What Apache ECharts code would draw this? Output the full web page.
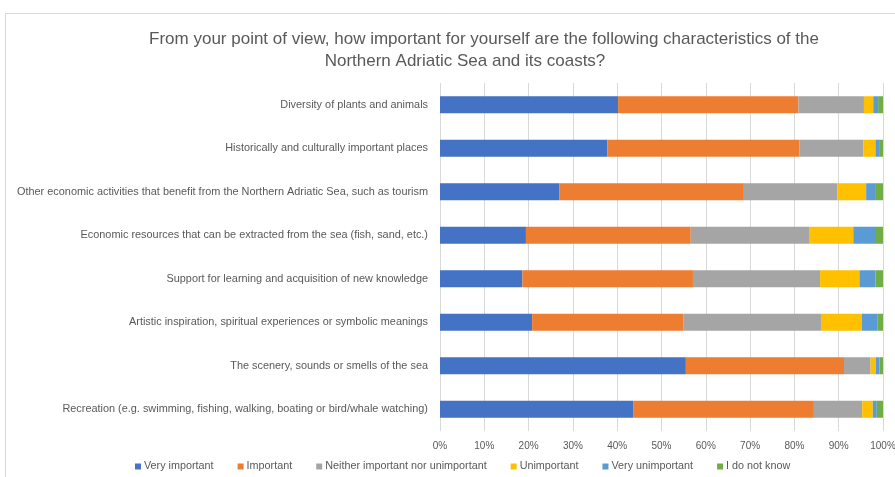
<!DOCTYPE html>
<html>
<head>
<meta charset="utf-8">
<script src="https://cdn.jsdelivr.net/npm/echarts@6/dist/echarts.min.js"></script>
<style>
  html, body { margin: 0; padding: 0; background: #fff; }
  #chart { width: 895px; height: 477px; }
</style>
</head>
<body>
<div id="chart"></div>
<script>
const categories = [
  "Diversity of plants and animals",
  "Historically and culturally important places",
  "Other economic activities that benefit from the Northern Adriatic Sea, such as tourism",
  "Economic resources that can be extracted from the sea (fish, sand, etc.)",
  "Support for learning and acquisition of new knowledge",
  "Artistic inspiration, spiritual experiences or symbolic meanings",
  "The scenery, sounds or smells of the sea",
  "Recreation (e.g. swimming, fishing, walking, boating or bird/whale watching)",
];

const veryImportant = [40.2, 37.8, 26.9, 19.4, 18.6, 20.8, 55.5, 43.6];
const important = [40.7, 43.3, 41.7, 37.2, 38.5, 34.1, 35.7, 40.8];
const neither = [14.8, 14.5, 21.1, 26.7, 28.7, 31.1, 6.0, 10.9];
const unimportant = [2.1, 2.7, 6.5, 10.0, 8.9, 9.2, 1.2, 2.4];
const veryUnimportant = [1.1, 1.0, 2.2, 4.9, 3.6, 3.5, 0.8, 0.9];
const doNotKnow = [1.1, 0.7, 1.6, 1.8, 1.7, 1.3, 0.8, 1.4];

const seriesNames = [
  "Very important",
  "Important",
  "Neither important nor unimportant",
  "Unimportant",
  "Very unimportant",
  "I do not know",
];
const seriesData = [veryImportant, important, neither, unimportant, veryUnimportant, doNotKnow];
const colors = ["#4472C4", "#ED7D31", "#A5A5A5", "#FFC000", "#5B9BD5", "#70AD47"];

const font = "Liberation Sans";
const textColor = "#595959";

const chart = echarts.init(document.getElementById("chart"), null, { renderer: "canvas" });

chart.setOption({
  animation: false,
  color: colors,
  title: [
    {
      text: "From your point of view, how important for yourself are the following characteristics of the",
      left: 479,
      top: 26,
      textAlign: "center",
      textStyle: { fontFamily: font, fontSize: 17, fontWeight: "normal", color: textColor },
    },
    {
      text: "Northern Adriatic Sea and its coasts?",
      left: 460,
      top: 48,
      textAlign: "center",
      textStyle: { fontFamily: font, fontSize: 17, fontWeight: "normal", color: textColor },
    },
  ],
  graphic: [
    {
      type: "rect",
      silent: true,
      shape: { x: 5.5, y: 13.5, width: 1000, height: 600 },
      style: { fill: "none", stroke: "#d9d9d9", lineWidth: 1 },
    },
  ],
  legend: {
    bottom: 0,
    left: 130,
    itemWidth: 6,
    itemHeight: 6,
    itemGap: 24,
    icon: "rect",
    textStyle: { fontFamily: font, fontSize: 10.8, color: textColor, padding: [0, 0, 0, -2] },
  },
  grid: { left: 440, right: 12, top: 83, bottom: 46, outerBoundsMode: "none" },
  xAxis: {
    type: "value",
    min: 0,
    max: 100,
    interval: 10,
    axisLine: { show: false },
    axisTick: { show: false },
    splitLine: { lineStyle: { color: "#d9d9d9" } },
    axisLabel: {
      fontFamily: font,
      fontSize: 10,
      color: textColor,
      margin: 10,
      formatter: (v) => v + "%",
    },
  },
  yAxis: {
    type: "category",
    data: categories,
    inverse: true,
    axisLine: { show: false },
    axisTick: { show: false },
    axisLabel: { fontFamily: font, fontSize: 10.9, color: textColor, margin: 12 },
  },
  series: seriesNames.map((name, i) => ({
    name,
    type: "bar",
    stack: "total",
    barWidth: 17,
    data: seriesData[i],
  })),
});
</script>
</body>
</html>
